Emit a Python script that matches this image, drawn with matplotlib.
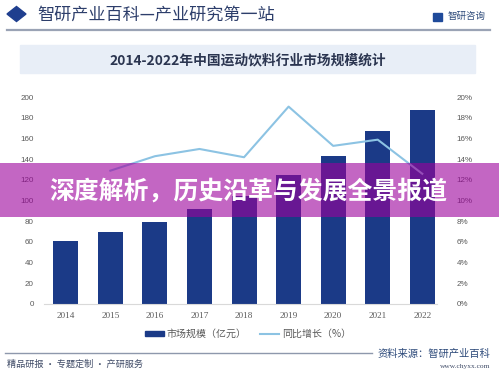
import matplotlib
matplotlib.use("Agg")
import matplotlib.pyplot as plt
from matplotlib.patches import Rectangle, Patch, Polygon
from matplotlib.lines import Line2D

plt.rcParams['font.family'] = ['Noto Sans CJK SC', 'DejaVu Sans']

# ---- data ----
years = ["2014", "2015", "2016", "2017", "2018", "2019", "2020", "2021", "2022"]
market_size = [61.2, 69.3, 79.5, 91.8, 104.5, 124.6, 143.2, 167.0, 188.0]
growth_years = ["2015", "2016", "2017", "2018", "2019", "2020", "2021", "2022"]
growth_pct = [12.9, 14.3, 15.0, 14.2, 19.1, 15.3, 15.9, 12.6]
left_ticks = [0, 20, 40, 60, 80, 100, 120, 140, 160, 180, 200]
right_ticks = [0, 2, 4, 6, 8, 10, 12, 14, 16, 18, 20]

BAR = "#1B3A87"
LINE = "#8CC3E3"
TXT = "#595959"

W, H = 499, 380
fig = plt.figure(figsize=(W / 100, H / 100), dpi=100)
fig.patch.set_facecolor("white")

def fx(px):
    return px / W

def fy(py):
    return 1 - py / H

# ---- axes ----
ax_l, ax_r, ax_b, ax_t = 43.5, 437, 304, 97.3
ax = fig.add_axes([fx(ax_l), fy(ax_b), fx(ax_r - ax_l), (ax_b - ax_t) / H])
x = list(range(len(years)))
ax.bar(x, market_size, width=0.56, color=BAR, zorder=2)
ax.set_xlim(-0.5, 8.33)
ax.set_ylim(0, 200)
ax.set_yticks(left_ticks)
ax.set_yticklabels([str(t) for t in left_ticks], fontsize=5.8, color=TXT,
                   family=['Liberation Sans'])
ax.set_xticks(x)
ax.set_xticklabels(years, fontsize=6.6, color=TXT, family=['Liberation Serif'])
ax.tick_params(axis='both', length=0)
ax.tick_params(axis='y', pad=7)
ax.tick_params(axis='x', pad=6)
for s in ["left", "right", "top"]:
    ax.spines[s].set_visible(False)
ax.spines["bottom"].set_color("#D9D9D9")
ax.spines["bottom"].set_linewidth(0.8)
ax.set_facecolor("none")

ax2 = ax.twinx()
gx = [years.index(y) for y in growth_years]
ax2.plot(gx, growth_pct, color=LINE, lw=1.5, zorder=3)
ax2.set_ylim(0, 20)
ax2.set_yticks(right_ticks)
ax2.set_yticklabels([f"{t}%" for t in right_ticks], fontsize=5.8, color=TXT,
                    family=['Liberation Sans'])
ax2.tick_params(axis='y', length=0, pad=14)
for s in ["left", "right", "top", "bottom"]:
    ax2.spines[s].set_visible(False)

# ---- legend ----
handles = [Patch(facecolor=BAR, edgecolor=BAR),
           Line2D([0], [0], color=LINE, lw=1.5)]
fig.legend(handles, ["市场规模（亿元）", "同比增长（%）"], loc="center",
           bbox_to_anchor=(fx(248), fy(334)), ncol=2, frameon=False,
           fontsize=7.2, labelcolor=TXT, handlelength=1.9, handleheight=0.35,
           handletextpad=0.3, columnspacing=1.3)

# ---- header ----
fig.add_artist(Polygon([[fx(7), fy(14)], [fx(16.5), fy(6.5)], [fx(26), fy(14)],
                        [fx(16.5), fy(21.5)]], closed=True, color="#1F3F8F",
                       transform=fig.transFigure))
fig.text(fx(37), fy(14.5), "智研产业百科—产业研究第一站", fontsize=12.3,
         color="#2D3E6B", va="center", ha="left")
fig.add_artist(Line2D([fx(7), fx(490)], [fy(29.5), fy(29.5)], color="#9AA3B5",
                      lw=1.6, transform=fig.transFigure))
fig.add_artist(Rectangle((fx(433), fy(20.5)), fx(9), 8 / H, color="#1F4A9A",
                         transform=fig.transFigure))
fig.text(fx(448), fy(16.5), "智研咨询", fontsize=6.8, color="#2D4A7A",
         va="center", ha="left")

# ---- title box ----
fig.add_artist(Rectangle((fx(20), fy(73)), fx(455), 28 / H, color="#E8EEF7",
                         transform=fig.transFigure, zorder=0))
fig.text(fx(248), fy(60.5), "2014-2022年中国运动饮料行业市场规模统计",
         fontsize=9.9, color="#2B3550", va="center", ha="center",
         fontweight="bold")

# ---- footer ----
fig.add_artist(Line2D([fx(5), fx(372)], [fy(353), fy(353)], color="#8E98AC",
                      lw=1.0, transform=fig.transFigure))
fig.text(fx(7), fy(364.5), "精品研报 · 专题定制 · 产研服务", fontsize=6.6,
         color="#3E4A66", va="center", ha="left")
fig.text(fx(490), fy(354), "资料来源：智研产业百科", fontsize=7.4,
         color="#2D4A7A", va="center", ha="right")
fig.text(fx(490), fy(366.5), "www.chyxx.com", fontsize=5.4, color="#3E4A66",
         va="center", ha="right", family=['Liberation Serif'])

# ---- overlay banner ----
fig.add_artist(Rectangle((0, fy(217)), 1, 54 / H, facecolor="#9C009C",
                         alpha=0.6, edgecolor="none",
                         transform=fig.transFigure, zorder=5))
fig.text(fx(248.5), fy(191), "深度解析，历史沿革与发展全景报道", fontsize=17.9,
         color="white", va="center", ha="center", fontweight="bold", zorder=6)

fig.savefig("out.png", dpi=100)
